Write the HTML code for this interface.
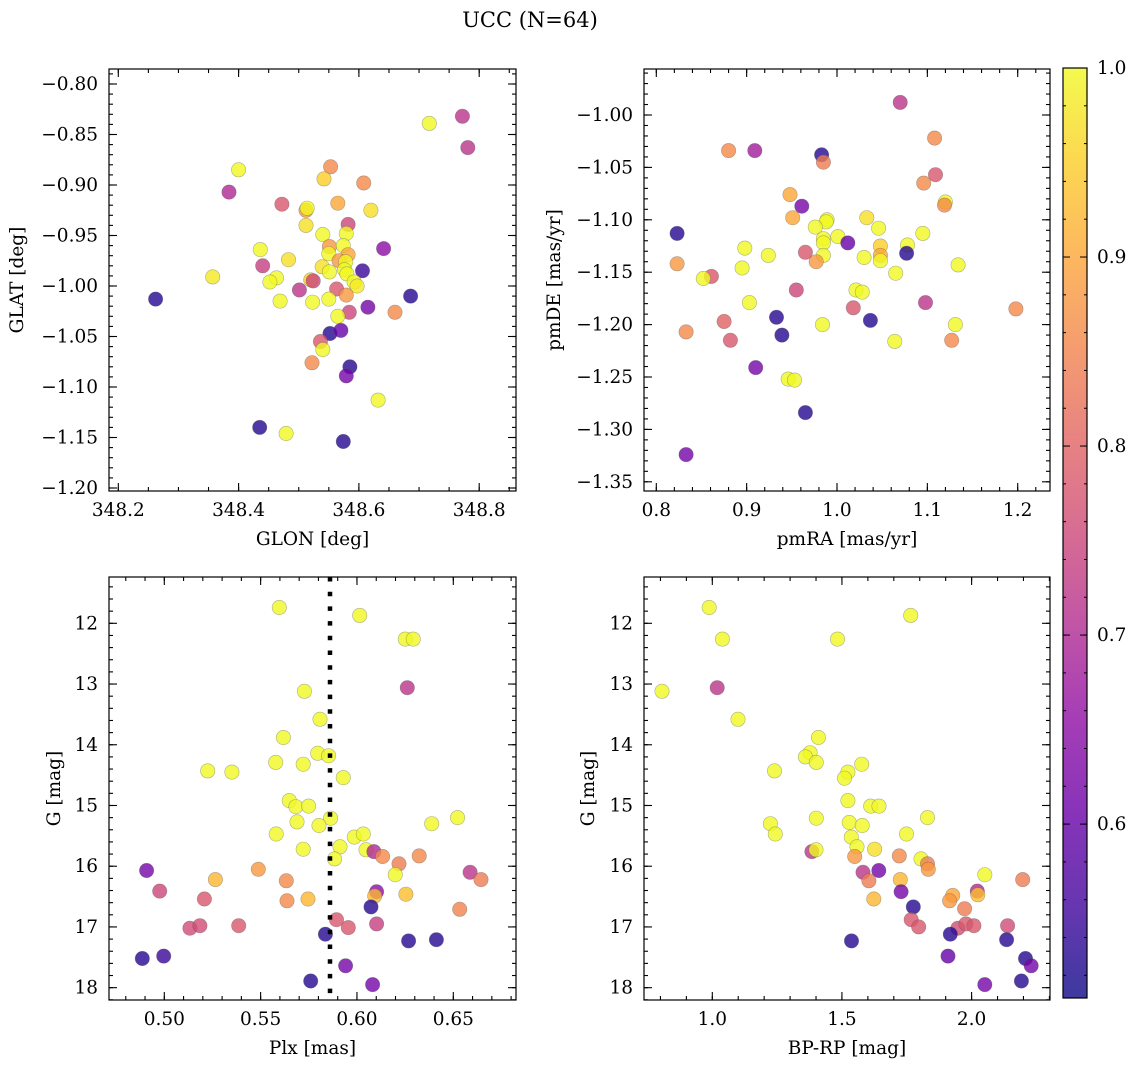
<!DOCTYPE html>
<html><head><meta charset="utf-8"><style>
html,body{margin:0;padding:0;background:#fff;}
svg{display:block;font-family:"DejaVu Serif","Liberation Serif",serif;}
</style></head><body>
<svg id="c" width="1136" height="1067" viewBox="0 0 1136 1067">
<text x="530" y="27" font-size="21" text-anchor="middle">UCC (N=64)</text>
</svg>
<script>
// Panel 1: GLON vs GLAT
const glonTL=[348.717,348.772,348.781,348.400,348.384,348.553,348.542,348.608,348.565,348.472,348.512,348.514,348.620,348.512,348.582,348.540,348.579,348.641,348.436,348.551,348.574,348.550,348.582,348.483,348.567,348.578,348.440,348.539,348.551,348.576,348.606,348.580,348.357,348.463,348.452,348.520,348.524,348.592,348.597,348.501,348.563,348.262,348.686,348.579,348.469,348.523,348.550,348.615,348.660,348.584,348.565,348.552,348.570,348.536,348.540,348.522,348.585,348.579,348.632,348.435,348.479,348.574];
const glatTL=[-0.839,-0.832,-0.863,-0.885,-0.907,-0.882,-0.894,-0.898,-0.918,-0.919,-0.925,-0.923,-0.925,-0.940,-0.939,-0.949,-0.948,-0.963,-0.964,-0.961,-0.960,-0.968,-0.969,-0.974,-0.975,-0.976,-0.980,-0.981,-0.986,-0.984,-0.985,-0.988,-0.991,-0.992,-0.996,-0.994,-0.995,-0.996,-1.000,-1.004,-1.003,-1.013,-1.010,-1.009,-1.015,-1.016,-1.013,-1.021,-1.026,-1.026,-1.030,-1.047,-1.044,-1.055,-1.063,-1.076,-1.080,-1.089,-1.113,-1.140,-1.146,-1.154];
const probTL=[1.0,0.72,0.72,1.0,0.7,0.86,0.95,0.86,0.9,0.78,0.88,1.0,0.97,0.97,0.75,1.0,1.0,0.65,1.0,0.88,1.0,1.0,0.9,0.97,0.88,1.0,0.74,0.97,1.0,1.0,0.55,1.0,0.98,1.0,1.0,0.95,0.75,1.0,0.98,0.72,0.78,0.53,0.53,0.88,1.0,1.0,1.0,0.62,0.86,0.75,1.0,0.53,0.6,0.78,1.0,0.86,0.53,0.62,1.0,0.53,1.0,0.53];
// Panel 2: pmRA vs pmDE
const pmraTR=[1.070,1.108,0.880,0.909,0.983,0.985,1.109,1.096,0.948,1.120,1.119,0.961,0.951,1.033,0.989,0.988,0.976,1.046,0.823,1.095,1.001,0.985,0.985,1.012,1.078,1.048,0.898,1.077,0.965,0.924,1.030,1.048,0.985,1.048,0.977,1.134,0.823,0.895,1.065,0.861,0.852,0.955,1.021,1.028,0.903,1.098,1.018,1.198,0.875,0.933,1.037,0.984,1.131,0.833,0.939,0.882,1.064,1.127,0.910,0.946,0.953,0.965,0.833];
const pmdeTR=[-0.988,-1.022,-1.034,-1.034,-1.038,-1.045,-1.057,-1.065,-1.076,-1.083,-1.086,-1.087,-1.098,-1.098,-1.100,-1.102,-1.107,-1.108,-1.113,-1.113,-1.116,-1.118,-1.122,-1.122,-1.124,-1.125,-1.127,-1.132,-1.131,-1.134,-1.136,-1.134,-1.134,-1.139,-1.140,-1.143,-1.142,-1.146,-1.151,-1.154,-1.156,-1.167,-1.167,-1.169,-1.179,-1.179,-1.184,-1.185,-1.197,-1.193,-1.196,-1.200,-1.200,-1.207,-1.210,-1.215,-1.216,-1.215,-1.241,-1.252,-1.253,-1.284,-1.324];
const probTR=[0.72,0.86,0.86,0.68,0.53,0.84,0.78,0.86,0.9,1.0,0.86,0.62,0.9,0.97,1.0,1.0,1.0,1.0,0.53,1.0,1.0,1.0,1.0,0.6,1.0,0.95,1.0,0.53,0.78,1.0,1.0,0.9,1.0,1.0,0.88,1.0,0.88,1.0,1.0,0.78,1.0,0.75,1.0,1.0,1.0,0.72,0.78,0.86,0.8,0.53,0.53,1.0,1.0,0.86,0.53,0.78,1.0,0.86,0.62,1.0,1.0,0.53,0.62];
// Panel 3: Plx vs G
const plxBL=[0.5597,0.6014,0.6251,0.6292,0.6261,0.5727,0.5808,0.5618,0.5796,0.5853,0.5578,0.5721,0.5225,0.5351,0.5929,0.5649,0.5683,0.5749,0.5863,0.6388,0.6522,0.5689,0.5803,0.5581,0.5986,0.6033,0.5912,0.5721,0.6047,0.6088,0.6133,0.6323,0.5884,0.6218,0.6199,0.4908,0.5488,0.6587,0.5265,0.5633,0.6644,0.4976,0.6102,0.6254,0.6092,0.5208,0.5637,0.5746,0.6073,0.6533,0.5894,0.6102,0.5133,0.5185,0.5386,0.5955,0.5836,0.6268,0.6412,0.4886,0.4997,0.5941,0.5760,0.6081];
const gBL=[11.74,11.87,12.26,12.26,13.06,13.12,13.58,13.88,14.14,14.18,14.29,14.32,14.43,14.45,14.54,14.92,15.02,15.01,15.21,15.30,15.20,15.27,15.33,15.47,15.52,15.47,15.68,15.72,15.73,15.76,15.84,15.83,15.88,15.96,16.14,16.07,16.05,16.10,16.22,16.24,16.22,16.41,16.42,16.46,16.49,16.54,16.57,16.54,16.67,16.71,16.88,16.95,17.02,16.98,16.98,17.01,17.12,17.23,17.21,17.52,17.48,17.64,17.89,17.95];
const probBL=[1,1,1,1,0.72,1,1,1,1,1,1,1,1,1,1,1,1,1,1,1,1,1,1,1,1,1,1,1,1,0.7,0.86,0.86,1,0.84,1,0.62,0.88,0.72,0.92,0.86,0.84,0.75,0.65,0.93,0.92,0.78,0.86,0.92,0.53,0.85,0.78,0.74,0.76,0.76,0.78,0.78,0.53,0.53,0.53,0.53,0.55,0.62,0.53,0.62];
const plxMean=0.586;
// Panel 4: BP-RP vs G
const bprpBR=[0.988,1.765,1.039,1.483,0.806,1.019,1.099,1.409,1.377,1.359,1.401,1.576,1.240,1.523,1.510,1.523,1.611,1.643,1.830,1.401,1.224,1.528,1.578,1.243,1.749,1.536,1.558,1.626,1.384,1.400,1.549,1.721,1.805,1.830,1.833,1.581,1.642,2.051,2.197,1.604,1.725,1.728,2.022,2.024,1.927,1.915,1.623,1.775,1.973,1.767,1.796,1.947,1.978,2.009,2.139,1.918,1.537,2.135,1.909,2.208,2.230,2.192,2.051];
const gBR=[11.74,11.87,12.26,12.26,13.12,13.06,13.58,13.88,14.13,14.20,14.29,14.32,14.43,14.45,14.55,14.92,15.01,15.01,15.20,15.21,15.30,15.28,15.33,15.47,15.47,15.52,15.68,15.72,15.76,15.73,15.84,15.83,15.88,15.96,16.05,16.10,16.07,16.14,16.22,16.24,16.22,16.42,16.41,16.47,16.48,16.57,16.54,16.67,16.70,16.88,17.00,17.02,16.95,16.98,16.98,17.12,17.23,17.21,17.48,17.52,17.64,17.89,17.95];
const probBR=[1,1,1,1,1,0.72,1,1,1,1,1,1,1,1,1,1,1,1,1,1,1,1,1,1,1,1,1,0.97,0.72,1,0.88,0.86,1,0.84,0.88,0.72,0.62,1,0.84,0.84,0.92,0.62,0.7,0.93,0.9,0.88,0.92,0.53,0.84,0.78,0.78,0.76,0.78,0.78,0.76,0.53,0.53,0.53,0.6,0.53,0.62,0.53,0.62];
const cbTicks=[0.6,0.7,0.8,0.9,1.0];

const NS="http://www.w3.org/2000/svg";
const svg=document.getElementById('c');
function mk(tag,attrs,parent){const e=document.createElementNS(NS,tag);for(const k in attrs)e.setAttribute(k,attrs[k]);(parent||svg).appendChild(e);return e;}
const stops=[[0,[13,8,135]],[0.1,[65,4,157]],[0.2,[106,0,168]],[0.3,[143,13,164]],[0.4,[177,42,144]],[0.5,[204,71,120]],[0.6,[225,100,98]],[0.7,[242,132,75]],[0.8,[252,166,54]],[0.9,[252,206,37]],[1,[240,249,33]]];
const VMIN=0.508,VMAX=1.0;
function plasma(t){t=Math.max(0,Math.min(1,t));for(let i=1;i<stops.length;i++){if(t<=stops[i][0]){const a=stops[i-1],b=stops[i];const f=(t-a[0])/(b[0]-a[0]);const c=a[1].map((v,j)=>Math.round(v+(b[1][j]-v)*f));return `rgb(${c[0]},${c[1]},${c[2]})`;}}return 'rgb(240,249,33)';}
function colorOf(p){return plasma((p-VMIN)/(VMAX-VMIN));}
const FS=18.5;

function panel(o){
  const g=mk('g',{});
  
  
  const {L,R,T,B}=o;
  const sx=v=>o.x0px+(v-o.x0)*o.xs, sy=v=>o.y0px+(v-o.y0)*o.ys;
  mk('rect',{x:L,y:T,width:R-L,height:B-T,fill:'#fff'},g);
  const clip=mk('clipPath',{id:o.name+'-clip'},g);mk('rect',{x:L,y:T,width:R-L,height:B-T},clip);
  const pts=mk('g',{'clip-path':`url(#${o.name}-clip)`},g);
  for(let i=0;i<o.xs_.length;i++){
    const c=mk('circle',{cx:sx(o.xs_[i]).toFixed(1),cy:sy(o.ys_[i]).toFixed(1),r:7.2,fill:colorOf(o.ps[i]),'fill-opacity':0.8,stroke:'#555','stroke-opacity':0.45,'stroke-width':0.6},pts);
    
    
  }
  if(o.extra)o.extra(pts,sx,sy);
  const tk=mk('g',{stroke:'#000','stroke-width':1.1},g);
  const eps=1e-9;
  function xt(v,len){const x=sx(v);if(x<L-0.5||x>R+0.5)return;mk('line',{x1:x,y1:B,x2:x,y2:B-len},tk);mk('line',{x1:x,y1:T,x2:x,y2:T+len},tk);}
  function yt(v,len){const y=sy(v);if(y<T-0.5||y>B+0.5)return;mk('line',{x1:L,y1:y,x2:L+len,y2:y},tk);mk('line',{x1:R,y1:y,x2:R-len,y2:y},tk);}
  for(let v=o.xmin;v<=o.xmax+eps;v+=o.xminor)xt(v,4);
  for(let v=o.ymin;v<=o.ymax+eps;v+=o.yminor)yt(v,4);
  o.xticks.forEach(v=>{xt(v,8);const t=mk('text',{x:sx(v),y:B+25,'font-size':FS,'text-anchor':'middle'},g);t.textContent=v.toFixed(o.xdec).replace('-','−');});
  o.yticks.forEach(v=>{yt(v,8);const t=mk('text',{x:L-11,y:sy(v)+6,'font-size':FS,'text-anchor':'end'},g);t.textContent=v.toFixed(o.ydec).replace('-','−');});
  mk('rect',{x:L,y:T,width:R-L,height:B-T,fill:'none',stroke:'#000','stroke-width':1.2},g);
  const xl=mk('text',{x:(L+R)/2,y:B+54,'font-size':FS,'text-anchor':'middle'},g);xl.textContent=o.xlabel;
  
  const yx=o.ylx, yy=(T+B)/2;
  const yl=mk('text',{x:yx,y:yy,'font-size':FS,'text-anchor':'middle',transform:`rotate(-90 ${yx} ${yy})`},g);yl.textContent=o.ylabel;
  
}
function rng(a,b,s){const r=[];for(let v=a;v<=b+1e-9;v+=s)r.push(+v.toFixed(6));return r;}

panel({name:'panel-glon-glat',L:109,R:516,T:69,B:491,x0:348.2,x0px:118.3,xs:601.5,y0:-0.80,y0px:84,ys:-1010,
  xs_:glonTL,ys_:glatTL,ps:probTL,xmin:348.2-0.15,xmax:348.9,xminor:0.05,ymin:-1.25,ymax:-0.75,yminor:0.01,
  xticks:[348.2,348.4,348.6,348.8],yticks:rng(-1.20,-0.80,0.05),xdec:1,ydec:2,xlabel:'GLON [deg]',ylabel:'GLAT [deg]',ylx:23});
panel({name:'panel-pmra-pmde',L:644,R:1050,T:69,B:491,x0:0.8,x0px:656.3,xs:903.5,y0:-1.00,y0px:115,ys:-1048,
  xs_:pmraTR,ys_:pmdeTR,ps:probTR,xmin:0.76,xmax:1.26,xminor:0.02,ymin:-1.40,ymax:-0.90,yminor:0.01,
  xticks:[0.8,0.9,1.0,1.1,1.2],yticks:rng(-1.35,-1.00,0.05),xdec:1,ydec:2,xlabel:'pmRA [mas/yr]',ylabel:'pmDE [mas/yr]',ylx:560});
panel({name:'panel-plx-g',L:109,R:516,T:577,B:1000,x0:0.5,x0px:164.3,xs:1926.7,y0:12,y0px:623.3,ys:60.73,
  xs_:plxBL,ys_:gBL,ps:probBL,xmin:0.46,xmax:0.70,xminor:0.01,ymin:11,ymax:18.4,yminor:0.2,
  xticks:[0.50,0.55,0.60,0.65],yticks:[12,13,14,15,16,17,18],xdec:2,ydec:0,xlabel:'Plx [mas]',ylabel:'G [mag]',ylx:60,
  extra:(g,sx,sy)=>{const x=sx(plxMean);const l=mk('line',{x1:x,y1:577,x2:x,y2:1000,stroke:'#000','stroke-width':4.5,'stroke-dasharray':'4.5 10.2'},g);}});
panel({name:'panel-bprp-g',L:644,R:1050,T:577,B:1000,x0:1.0,x0px:712.3,xs:259.3,y0:12,y0px:623.3,ys:60.73,
  xs_:bprpBR,ys_:gBR,ps:probBR,xmin:0.7,xmax:2.4,xminor:0.1,ymin:11,ymax:18.4,yminor:0.2,
  xticks:[1.0,1.5,2.0],yticks:[12,13,14,15,16,17,18],xdec:1,ydec:0,xlabel:'BP-RP [mag]',ylabel:'G [mag]',ylx:594});

const cb=mk('g',{});


const defs=mk('defs',{},cb);const lg=mk('linearGradient',{id:'plg',x1:0,y1:1,x2:0,y2:0},defs);
for(let i=0;i<=20;i++){const t=i/20;mk('stop',{offset:t,'stop-color':plasma(t),'stop-opacity':0.8},lg);}
const CT=68,CB=998,CL=1063,CR=1087;
mk('rect',{x:CL,y:CT,width:CR-CL,height:CB-CT,fill:'url(#plg)'},cb);
mk('rect',{x:CL,y:CT,width:CR-CL,height:CB-CT,fill:'none',stroke:'#000','stroke-width':1.2},cb);
const cy=v=>CB-(v-VMIN)/(VMAX-VMIN)*(CB-CT);
for(let v=0.52;v<=1.0001;v+=0.02){const y=cy(v);mk('line',{x1:CL,y1:y,x2:CL+3,y2:y,stroke:'#000'},cb);mk('line',{x1:CR,y1:y,x2:CR-3,y2:y,stroke:'#000'},cb);}
cbTicks.forEach(v=>{const y=cy(v);mk('line',{x1:CL,y1:y,x2:CL+7,y2:y,stroke:'#000'},cb);mk('line',{x1:CR,y1:y,x2:CR-7,y2:y,stroke:'#000'},cb);
  const t=mk('text',{x:CR+10,y:y+6,'font-size':FS},cb);t.textContent=v.toFixed(1);});
</script>
</body></html>
